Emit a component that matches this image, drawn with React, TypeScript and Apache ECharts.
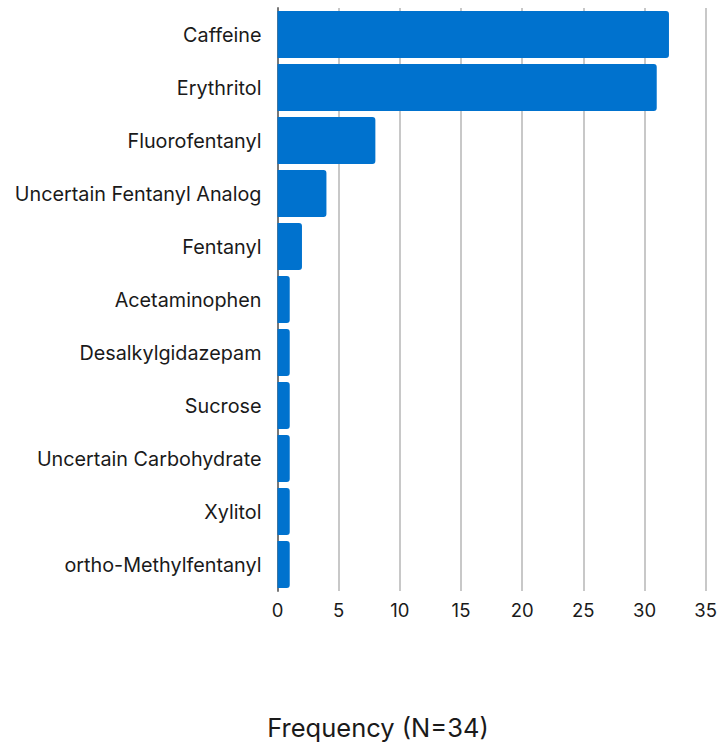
import React, { useEffect, useRef } from "react";
import * as echarts from "echarts";

const categories = [
  "Caffeine",
  "Erythritol",
  "Fluorofentanyl",
  "Uncertain Fentanyl Analog",
  "Fentanyl",
  "Acetaminophen",
  "Desalkylgidazepam",
  "Sucrose",
  "Uncertain Carbohydrate",
  "Xylitol",
  "ortho-Methylfentanyl",
];
const frequencies = [32, 31, 8, 4, 2, 1, 1, 1, 1, 1, 1];
const axisName = "Frequency (N=34)";

export default function App() {
  const ref = useRef<HTMLDivElement>(null);
  useEffect(() => {
    if (!ref.current) return;
    const chart = echarts.init(ref.current, null, { renderer: "svg" });
    const font = "Inter, 'Noto Sans', sans-serif";
    chart.setOption({
      animation: false,
      textStyle: { fontFamily: font },
      grid: { left: 277.5, right: 14, top: 8, bottom: 151, containLabel: false },
      graphic: [
        {
          type: "text",
          x: 378,
          y: 727,
          style: {
            text: axisName,
            fontSize: 25.5,
            fill: "#1a1a1a",
            fontFamily: font,
            textAlign: "center",
            textVerticalAlign: "middle",
          },
        },
      ],
      xAxis: {
        type: "value",
        min: 0,
        max: 35,
        interval: 5,
        axisLine: { show: false },
        axisTick: { show: false },
        axisLabel: { fontSize: 18.5, color: "#1a1a1a", margin: 9, fontFamily: font },
        splitLine: { show: true, lineStyle: { color: "#c8c8c8", width: 2 } },
      },
      yAxis: {
        type: "category",
        inverse: true,
        data: categories,
        axisLine: { show: true, lineStyle: { color: "#777", width: 2 } },
        axisTick: { show: false },
        axisLabel: { fontSize: 19.8, color: "#1a1a1a", margin: 16, fontFamily: font },
      },
      series: [
        {
          type: "bar",
          data: frequencies,
          barCategoryGap: "11%",
          itemStyle: { color: "#0072CE", borderRadius: [0, 3, 3, 0] },
        },
      ],
    });
    return () => chart.dispose();
  }, []);
  return (
    <div
      ref={ref}
      style={{ position: "absolute", left: 0, top: 0, width: 720, height: 742 }}
    />
  );
}
